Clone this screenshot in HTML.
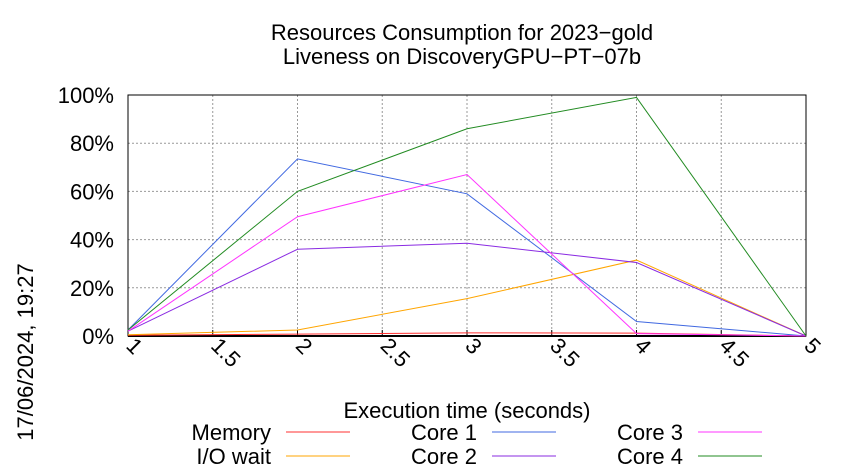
<!DOCTYPE html>
<html><head><meta charset="utf-8"><style>body{margin:0;background:#fff}svg{display:block;font-family:"Liberation Sans",sans-serif}</style></head>
<body>
<svg id="chart" width="850" height="475" xmlns="http://www.w3.org/2000/svg">
<text x="462" y="40" text-anchor="middle" font-size="22">Resources Consumption for 2023−gold</text>
<text x="462" y="64" text-anchor="middle" font-size="22">Liveness on DiscoveryGPU−PT−07b</text>
<text transform="translate(33,352) rotate(-90)" text-anchor="middle" font-size="22">17/06/2024, 19:27</text>
<text x="467" y="418" text-anchor="middle" font-size="22">Execution time (seconds)</text>
<g id="grid"></g><g id="axes"></g><g id="series"></g><g id="legend"></g>
</svg>
<script>
const xValues=[1,2,3,4,5];
const memory=[0.3,0.8,1.3,1.2,0];
const ioWait=[0.5,2.5,15.5,31.5,0];
const core1=[2.5,73.5,59,6,0];
const core2=[2,36,38.5,30.5,0];
const core3=[2,49.5,67,1,0];
const core4=[2.5,60,86,99,0];
const xTicks=[1,1.5,2,2.5,3,3.5,4,4.5,5];
const yTicks=[0,20,40,60,80,100];
const NS="http://www.w3.org/2000/svg";
const L=128,R=806,T=95,B=336;
const sx=v=>L+(v-1)/4*(R-L), sy=v=>B-v/100*(B-T);
function mk(tag,attrs,parent){const e=document.createElementNS(NS,tag);for(const k in attrs)e.setAttribute(k,attrs[k]);document.getElementById(parent).appendChild(e);return e;}
xTicks.forEach(t=>{
 const g=mk('line',{x1:sx(t),x2:sx(t),y1:T,y2:B,stroke:'#999','stroke-dasharray':'2,2','stroke-width':1},'grid');
 
 
 const k=mk('line',{x1:sx(t),x2:sx(t),y1:B,y2:B-6,stroke:'#000'},'axes');
 
 
 const tx=mk('text',{transform:`translate(${sx(t)-3},${B+11}) rotate(45)`,'font-size':22},'axes');
 tx.textContent=String(t);
 
 
});
yTicks.forEach(t=>{
 const g=mk('line',{x1:L,x2:R,y1:sy(t),y2:sy(t),stroke:'#999','stroke-dasharray':'2,2','stroke-width':1},'grid');
 
 
 const tx=mk('text',{x:L-14,y:sy(t)+8,'text-anchor':'end','font-size':22},'axes');
 tx.textContent=t+'%';
 
 
});
const fr=mk('rect',{x:L,y:T,width:R-L,height:B-T,fill:'none',stroke:'#000','stroke-width':1},'axes');


const bl=mk('line',{x1:L,x2:R,y1:B,y2:B,stroke:'#000','stroke-width':2},'axes');


const series=[['Memory',memory,'#ff3030',0],['I/O wait',ioWait,'#ffa500',1],['Core 1',core1,'#4169e1',2],['Core 2',core2,'#8a2be2',3],['Core 3',core3,'#ff33ff',4],['Core 4',core4,'#228b22',5]];
series.forEach(([name,vals,col,i])=>{
 const p=mk('polyline',{points:vals.map((v,j)=>sx(xValues[j])+','+sy(v)).join(' '),fill:'none',stroke:col,'stroke-width':1},'series');
 
 
 const col_i=Math.floor(i/2),row=i%2;
 const tEnd=[271,477,683][col_i],ly=[432,456][row];
 const tx=mk('text',{x:tEnd,y:ly+8,'text-anchor':'end','font-size':22},'legend');
 tx.textContent=name;
 
 
 const ln=mk('line',{x1:tEnd+15,x2:tEnd+79,y1:ly,y2:ly,stroke:col,'stroke-width':1},'legend');
 
 
});
</script>
</body></html>
